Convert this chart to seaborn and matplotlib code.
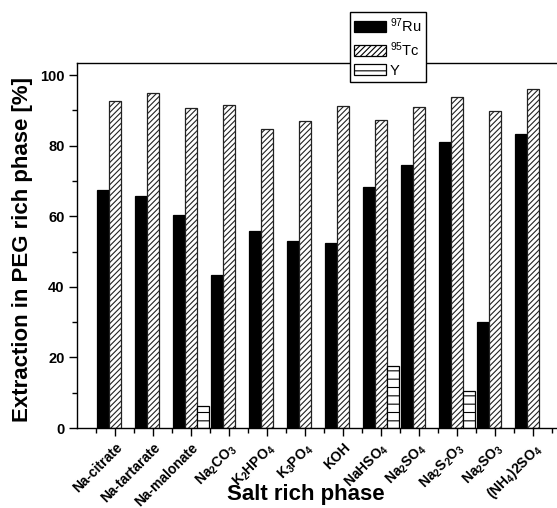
import matplotlib
matplotlib.use("Agg")
import matplotlib.pyplot as plt
from matplotlib.patches import Patch
from matplotlib.ticker import MultipleLocator, FixedLocator
import seaborn as sns
import pandas as pd
import numpy as np

sns.set_theme(style="ticks")
plt.rcParams["font.family"] = ["Liberation Sans", "DejaVu Sans"]
plt.rcParams["text.color"] = "black"
plt.rcParams["axes.labelcolor"] = "black"
plt.rcParams["mathtext.fontset"] = "custom"
plt.rcParams["mathtext.rm"] = "Liberation Sans"
plt.rcParams["mathtext.it"] = "Liberation Sans:italic"
plt.rcParams["mathtext.bf"] = "Liberation Sans:bold"
plt.rcParams["hatch.linewidth"] = 0.8

# Salts forming the salt-rich phase
salts = ["Na-citrate", "Na-tartarate", "Na-malonate", "Na2CO3", "K2HPO4", "K3PO4",
         "KOH", "NaHSO4", "Na2SO4", "Na2S2O3", "Na2SO3", "(NH4)2SO4"]
salt_labels = ["Na-citrate", "Na-tartarate", "Na-malonate",
               r"Na$\mathbf{_2}$CO$\mathbf{_3}$", r"K$\mathbf{_2}$HPO$\mathbf{_4}$",
               r"K$\mathbf{_3}$PO$\mathbf{_4}$", "KOH", r"NaHSO$\mathbf{_4}$",
               r"Na$\mathbf{_2}$SO$\mathbf{_4}$", r"Na$\mathbf{_2}$S$\mathbf{_2}$O$\mathbf{_3}$",
               r"Na$\mathbf{_2}$SO$\mathbf{_3}$", r"(NH$\mathbf{_4}$)2SO$\mathbf{_4}$"]

# Extraction into the PEG-rich phase [%]
ru97 = [67.4, 65.7, 60.3, 43.3, 55.8, 53.0, 52.4, 68.2, 74.6, 81.0, 30.0, 83.3]
tc95 = [92.6, 94.9, 90.7, 91.4, 84.8, 87.0, 91.1, 87.2, 90.9, 93.8, 89.8, 95.9]
y_vals = [np.nan, np.nan, 6.2, np.nan, np.nan, np.nan, np.nan, 17.6, np.nan, 10.6, np.nan, np.nan]

series_names = ["97Ru", "95Tc", "Y"]
series_labels = [r"$^{97}$Ru", r"$^{95}$Tc", "Y"]

df = pd.DataFrame({
    "salt": salts * 3,
    "series": [series_names[0]] * len(salts) + [series_names[1]] * len(salts)
              + [series_names[2]] * len(salts),
    "value": ru97 + tc95 + y_vals,
})

W, H = 557, 508
fig = plt.figure(figsize=(W / 100, H / 100), dpi=100)
ax = fig.add_axes([77 / W, 1 - 428 / H, (571 - 77) / W, (428 - 63) / H])

faces = {"97Ru": "black", "95Tc": "white", "Y": "white"}
hatches = {"97Ru": None, "95Tc": "//////", "Y": "--"}

sns.barplot(data=df, x="salt", y="value", hue="series", order=salts,
            hue_order=series_names, palette=faces, width=0.95, dodge=True,
            errorbar=None, legend=False, ax=ax, edgecolor="black", linewidth=0.9)

for cont, name in zip(ax.containers, series_names):
    for bar in cont:
        bar.set_facecolor(faces[name])
        bar.set_edgecolor("black" if name != "95Tc" else "#222222")
        if hatches[name]:
            bar.set_hatch(hatches[name])

ax.set_xlim(-1, 12)
ax.set_ylim(0, 103.4)

ax.yaxis.set_major_locator(MultipleLocator(20))
ax.yaxis.set_minor_locator(MultipleLocator(10))
ax.xaxis.set_minor_locator(FixedLocator(np.arange(-0.5, 12, 1.0)))
ax.set_xticks(range(len(salts)))
ax.set_xticklabels(salt_labels, rotation=45, ha="right", rotation_mode="anchor",
                   fontsize=10, fontweight="bold")
for lab in ax.get_yticklabels():
    lab.set_fontweight("bold")
    lab.set_fontsize(10.5)

ax.tick_params(axis="both", which="major", direction="out", length=6, width=1.0,
               color="black", labelcolor="black", pad=3)
ax.tick_params(axis="both", which="minor", direction="out", length=3.5, width=1.0,
               color="black")

for side in ["left", "bottom", "top", "right"]:
    ax.spines[side].set_visible(True)
    ax.spines[side].set_color("black")
    ax.spines[side].set_linewidth(1.0)

ax.set_xlabel("Salt rich phase", fontsize=16, fontweight="bold", color="black")
ax.set_ylabel("Extraction in PEG rich phase [%]", fontsize=16, fontweight="bold",
              color="black")
ax.xaxis.set_label_coords((306 - 77) / (571 - 77), -(484 - 428) / (428 - 63))
ax.yaxis.set_label_coords(-(77 - 33) / (571 - 77), 0.49)

handles = [Patch(facecolor=faces[n], edgecolor="black", hatch=hatches[n], linewidth=0.9)
           for n in series_names]
leg = fig.legend(handles, series_labels, loc="upper left",
                 bbox_to_anchor=(350 / W, 1 - 12 / H), fontsize=10.5,
                 frameon=True, fancybox=False, framealpha=1, edgecolor="black",
                 handlelength=2.2, handleheight=0.8, handletextpad=0.25,
                 labelspacing=0.35, borderpad=0.3, borderaxespad=0)
leg.get_frame().set_linewidth(1.0)

fig.savefig("out.png", dpi=100)
